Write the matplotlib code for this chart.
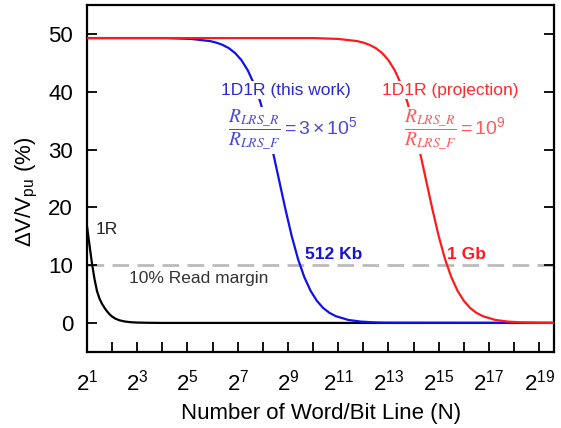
import matplotlib
matplotlib.use("Agg")
import matplotlib.pyplot as plt
import numpy as np

plt.rcParams["font.family"] = ["Liberation Sans", "DejaVu Sans"]
plt.rcParams["mathtext.default"] = "regular"

# exponents of N (N = 2**e) and dV/Vpu values (%)
e_1r = [1.0, 1.1, 1.2, 1.3, 1.4, 1.5, 1.6, 1.7, 1.8, 1.9, 2.0, 2.15, 2.3, 2.5, 2.75, 3.0, 3.5, 4.0, 19.6]
v_1r = [16.8, 13.5, 10.3, 7.6, 5.5, 4.2, 3.3, 2.6, 2.0, 1.5, 1.1, 0.7, 0.45, 0.25, 0.12, 0.06, 0.02, 0.0, 0.0]

e_blue = [1.0, 4.15, 5.15, 5.9, 6.15, 6.4, 6.65, 6.9, 7.15, 7.4, 7.65, 7.9, 8.15,
          8.4, 8.65, 8.9, 9.15, 9.4, 9.65, 9.9, 10.15, 10.4, 10.65, 10.9,
          11.4, 11.9, 12.4, 12.9, 19.6]
v_blue = [49.3, 49.3, 49.15, 48.78, 48.51, 48.12, 47.55, 46.70, 45.47, 43.72, 41.36, 38.25, 34.28,
          29.63, 24.65, 19.67, 15.03, 11.07, 7.94, 5.57, 3.83, 2.59, 1.75, 1.18,
          0.52, 0.23, 0.10, 0.04, 0.0]

e_red = [1.0, 10.0, 11.0, 11.75, 12.0, 12.25, 12.5, 12.75, 13.0, 13.25, 13.5, 13.75, 14.0,
         14.25, 14.5, 14.75, 15.0, 15.25, 15.5, 15.75, 16.0, 16.25, 16.5, 16.75,
         17.25, 17.75, 18.25, 18.75, 19.6]
v_red = [49.3, 49.3, 49.15, 48.78, 48.51, 48.12, 47.55, 46.70, 45.47, 43.72, 41.36, 38.25, 34.28,
         29.63, 24.65, 19.67, 15.03, 11.07, 7.94, 5.57, 3.83, 2.59, 1.75, 1.18,
         0.52, 0.23, 0.10, 0.04, 0.0]

read_margin = 10
x_ticks = list(range(1, 20))

fig = plt.figure(figsize=(5.61, 4.28), dpi=100)
ax = fig.add_axes([0.155, 0.178, 0.833, 0.81])

ax.axhline(read_margin, color="#bbbbbb", lw=2, ls=(0, (6, 3)), zorder=1)
ax.plot(2.0 ** np.array(e_1r), v_1r, color="black", lw=1.6, zorder=2)
ax.plot(2.0 ** np.array(e_blue), v_blue, color="#1010ee", lw=1.6, zorder=3)
ax.plot(2.0 ** np.array(e_red), v_red, color="#ff1a1a", lw=1.6, zorder=4)

ax.set_xscale("log", base=2)
ax.set_xlim(2, 2 ** 19.6)
ax.set_ylim(-5, 55)
ax.set_xticks([2.0 ** k for k in x_ticks])
ax.set_xticklabels([f"$2^{{{k}}}$" if k % 2 == 1 else "" for k in x_ticks])
ax.minorticks_off()
ax.set_yticks([0, 10, 20, 30, 40, 50])
ax.tick_params(direction="in", length=7, width=1.3, labelsize=16)
ax.tick_params(axis="x", pad=13)
ax.tick_params(axis="y", right=True, pad=10)
for s in ax.spines.values():
    s.set_linewidth(1.6)

ax.set_xlabel("Number of Word/Bit Line (N)", fontsize=16, labelpad=5)
ax.set_ylabel("ΔV/V$_{pu}$ (%)", fontsize=16)
ax.yaxis.set_label_coords(-0.10, 0.46)

box = dict(facecolor="white", edgecolor="none", pad=1)
ax.text(2 ** 8.93, 40.3, "1D1R (this work)", color="#2a2ad0", fontsize=12.5,
        ha="center", va="center", bbox=box, zorder=5)
ax.text(2 ** 15.44, 40.3, "1D1R (projection)", color="#ff2a2a", fontsize=12.5,
        ha="center", va="center", bbox=box, zorder=5)
ax.text(2 ** 6.6, 33.3, r"$\dfrac{\mathit{R_{LRS\_R}}}{\mathit{R_{LRS\_F}}} = 3\times10^5$",
        color="#4a4ad8", fontsize=14, ha="left", va="center",
        math_fontfamily="stix", bbox=box, zorder=5)
ax.text(2 ** 13.6, 33.3, r"$\dfrac{\mathit{R_{LRS\_R}}}{\mathit{R_{LRS\_F}}} = 10^9$",
        color="#ff5a5a", fontsize=14, ha="left", va="center",
        math_fontfamily="stix", bbox=box, zorder=5)
ax.text(2 ** 10.82, 11.9, "512 Kb", color="#1515d0", fontsize=12.5,
        fontweight="bold", ha="center", va="center")
ax.text(2 ** 16.1, 11.9, "1 Gb", color="#ff1a1a", fontsize=12.5,
        fontweight="bold", ha="center", va="center")
ax.text(2 ** 1.8, 16.1, "1R", color="#222222", fontsize=12.5, ha="center", va="center")
ax.text(2 ** 5.45, 7.7, "10% Read margin", color="#333333", fontsize=12.5,
        ha="center", va="center")

fig.savefig("out.png", dpi=100)
plt.close()
